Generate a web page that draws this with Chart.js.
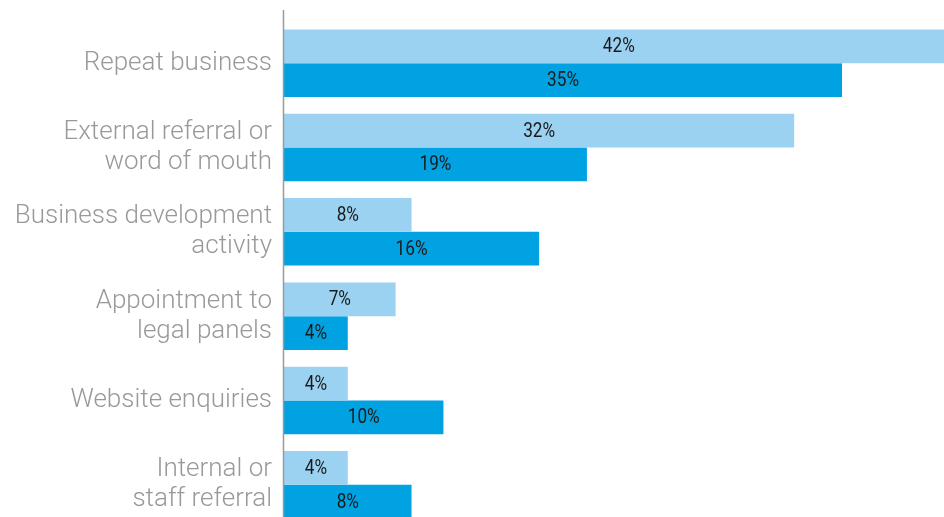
<!DOCTYPE html>
<html>
<head>
<meta charset="utf-8">
<script src="https://cdn.jsdelivr.net/npm/chart.js@4"></script>
<style>
  html, body { margin: 0; padding: 0; background: #fff; overflow: hidden; }
  #wrap { width: 960px; height: 540px; }
</style>
</head>
<body>
<div id="wrap"><canvas id="sourcesChart"></canvas></div>
<script>
var categories = [
  ['Repeat business'],
  ['External referral or', 'word of mouth'],
  ['Business development', 'activity'],
  ['Appointment to', 'legal panels'],
  ['Website enquiries'],
  ['Internal or', 'staff referral']
];
var firstSeries = [42, 32, 8, 7, 4, 4];
var secondSeries = [35, 19, 16, 4, 10, 8];

// value labels in the middle of each bar, squeezed a little sideways
var barLabels = {
  id: 'barLabels',
  afterDatasetsDraw: function (chart) {
    var ctx = chart.ctx;
    var sx = 0.86;
    ctx.save();
    ctx.font = '20px Roboto';
    ctx.fillStyle = '#1a1a1a';
    ctx.textAlign = 'center';
    ctx.textBaseline = 'middle';
    ctx.scale(sx, 1);
    chart.data.datasets.forEach(function (ds, i) {
      chart.getDatasetMeta(i).data.forEach(function (bar, j) {
        ctx.fillText(ds.data[j] + '%', (bar.base + bar.x) / 2 / sx, bar.y + 1);
      });
    });
    ctx.restore();
  }
};

// vertical axis line, runs a bit above the first group
var axisLine = {
  id: 'axisLine',
  afterDraw: function (chart) {
    var ctx = chart.ctx;
    var x = chart.chartArea.left - 0.5;
    ctx.save();
    ctx.strokeStyle = '#9a9a9a';
    ctx.lineWidth = 1.5;
    ctx.beginPath();
    ctx.moveTo(x, 10);
    ctx.lineTo(x, chart.height);
    ctx.stroke();
    ctx.restore();
  }
};

var ctx = document.getElementById('sourcesChart').getContext('2d');
var sourcesChart = new Chart(ctx, {
  type: 'bar',
  data: {
    labels: categories,
    datasets: [{
      label: 'Previous',
      backgroundColor: '#9bd2f1',
      data: firstSeries
    }, {
      label: 'Current',
      backgroundColor: '#00a2e2',
      data: secondSeries
    }]
  },
  options: {
    indexAxis: 'y',
    responsive: true,
    maintainAspectRatio: false,
    animation: false,
    events: [],
    layout: { padding: { top: 21, bottom: 13, left: 0, right: 0 } },
    datasets: { bar: { categoryPercentage: 0.8, barPercentage: 1.0 } },
    plugins: { legend: { display: false }, tooltip: { enabled: false } },
    scales: {
      x: { display: false, min: 0, max: 42.4 },
      y: {
        afterFit: function (scale) {
          scale.width = 284;
          scale.paddingTop = 0;
          scale.paddingBottom = 0;
        },
        grid: { display: false, drawTicks: false },
        border: { display: false },
        ticks: {
          padding: 12,
          color: '#999999',
          font: { family: 'Roboto', size: 26, weight: 300, lineHeight: 1.15 }
        }
      }
    }
  },
  plugins: [barLabels, axisLine]
});
</script>
</body>
</html>
